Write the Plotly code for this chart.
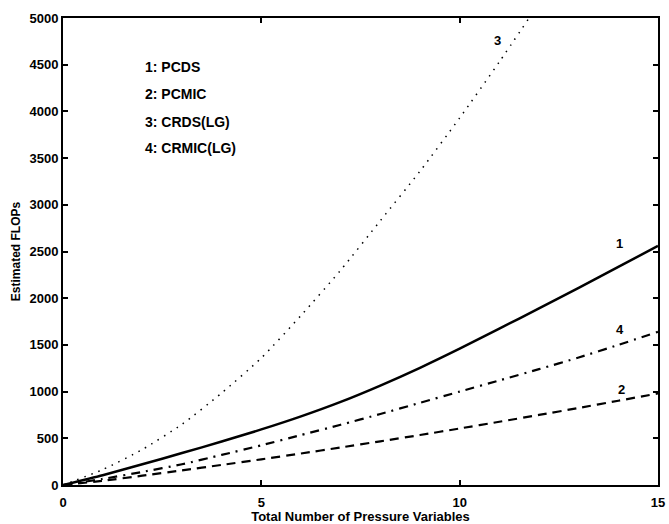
import plotly.graph_objects as go

# ---- data ----
x_vals = [0, 1, 2, 3, 4, 5, 6, 7, 8, 9, 10, 11, 12, 13, 14, 15]
pcds = [0, 105, 222, 342, 465, 595, 735, 890, 1065, 1255, 1460, 1675, 1890, 2110, 2335, 2560]
pcmic = [0, 45, 100, 157, 215, 275, 337, 402, 468, 535, 605, 677, 750, 825, 902, 980]
crmic_lg = [0, 65, 140, 222, 322, 425, 535, 645, 760, 880, 1000, 1120, 1240, 1365, 1500, 1640]
x_crds = [0, 1, 2, 3, 4, 5, 6, 7, 8, 9, 10, 11, 11.75]
crds_lg = [0, 165, 380, 650, 985, 1360, 1815, 2300, 2830, 3360, 3930, 4530, 5000]

legend_lines = ["1: PCDS", "2: PCMIC", "3: CRDS(LG)", "4: CRMIC(LG)"]
x_ticks = [0, 5, 10, 15]
y_ticks = [0, 500, 1000, 1500, 2000, 2500, 3000, 3500, 4000, 4500, 5000]

FONT = "Liberation Sans, Arial, sans-serif"

fig = go.Figure()
fig.add_trace(go.Scatter(x=x_vals, y=pcds, mode="lines", line=dict(color="black", width=2.5, shape="spline", smoothing=0.6)))
fig.add_trace(go.Scatter(x=x_vals, y=pcmic, mode="lines", line=dict(color="black", width=2.2, dash="9px,6px", shape="spline", smoothing=0.6)))
fig.add_trace(go.Scatter(x=x_crds, y=crds_lg, mode="lines", line=dict(color="black", width=1.5, dash="1.5px,6px", shape="spline", smoothing=0.6)))
fig.add_trace(go.Scatter(x=x_vals, y=crmic_lg, mode="lines", line=dict(color="black", width=2.2, dash="9px,6px,2px,6px", shape="spline", smoothing=0.6)))

# curve number labels
num_labels = [("1", 14.04, 2591), ("2", 14.07, 1025), ("3", 10.96, 4754), ("4", 14.05, 1667)]
for t, xx, yy in num_labels:
    fig.add_annotation(x=xx, y=yy, text="<b>" + t + "</b>", showarrow=False,
                       font=dict(family=FONT, size=13, color="black"))

# legend text block
leg_y = [4472, 4186, 3890, 3605]
for t, yy in zip(legend_lines, leg_y):
    fig.add_annotation(x=2.02, y=yy, text="<b>" + t + "</b>", showarrow=False, xanchor="left",
                       font=dict(family=FONT, size=14, color="black"))

axis_common = dict(showline=True, linecolor="black", linewidth=2, mirror="allticks",
                   ticks="inside", ticklen=5, tickwidth=1.5, tickcolor="black",
                   showgrid=False, zeroline=False, automargin=False,
                   tickfont=dict(family=FONT, size=13, color="black", weight="bold"))

fig.update_xaxes(range=[0, 15], tickvals=x_ticks, ticktext=[str(v) for v in x_ticks],
                 ticklabelstandoff=4,
                 title=dict(text="<b>Total Number of Pressure Variables</b>", standoff=3,
                            font=dict(family=FONT, size=13, color="black")),
                 **axis_common)
fig.update_yaxes(range=[0, 5000], tickvals=y_ticks, ticktext=[str(v) for v in y_ticks],
                 title=dict(text="<b>Estimated FLOPs</b>", standoff=6,
                            font=dict(family=FONT, size=12, color="black")),
                 **axis_common)

fig.update_layout(width=669, height=524, showlegend=False,
                  margin=dict(l=63, r=11, t=18, b=39),
                  plot_bgcolor="white", paper_bgcolor="white")

fig.write_html("out.html")
